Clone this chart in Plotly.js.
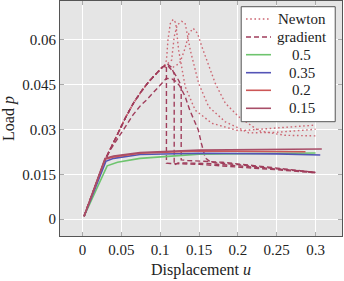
<!DOCTYPE html>
<html><head><meta charset="utf-8">
<script src="https://cdn.plot.ly/plotly-3.0.1.min.js"></script>
<style>html,body{margin:0;padding:0;background:#fff}#plot{width:344px;height:281px}</style>
</head><body><div id="plot"></div>
<script>
// shared loading path (upper cluster)
const upX = [0.002,0.029,0.036,0.045,0.055,0.065,0.075,0.085,0.095,0.103];
const upY = [0.001,0.0198,0.0235,0.0285,0.0337,0.0385,0.0424,0.0458,0.0487,0.0508];

// Newton (dotted) branches after the shared path
const newton1X = [0.106,0.108,0.110,0.113,0.1168,0.120,0.1237,0.1322,0.145,0.1666,0.201,0.25,0.3];
const newton1Y = [0.0515,0.053,0.0598,0.0653,0.0667,0.0655,0.0564,0.0442,0.0364,0.032,0.0295,0.0305,0.0314];
const newton2X = [0.108,0.1147,0.118,0.1219,0.1276,0.132,0.1387,0.1495,0.1624,0.1838,0.214,0.25,0.3];
const newton2Y = [0.0515,0.0531,0.0609,0.0648,0.066,0.0655,0.0564,0.0453,0.0375,0.0325,0.0288,0.029,0.030];
const newton3X = [0.115,0.125,0.132,0.137,0.1425,0.148,0.1537,0.1709,0.1838,0.201,0.2268,0.26,0.3];
const newton3Y = [0.0505,0.052,0.057,0.062,0.0637,0.062,0.0575,0.0453,0.0387,0.0342,0.0295,0.028,0.0278];

// gradient (dashed) branches after the shared path
const grad1X = [0.107,0.108,0.108,0.113,0.15,0.2,0.25,0.3];
const grad1Y = [0.0514,0.0512,0.0187,0.0186,0.0183,0.0175,0.0165,0.0155];
const grad2X = [0.109,0.114,0.118,0.118,0.123,0.16,0.2,0.25,0.3];
const grad2Y = [0.0518,0.0508,0.0485,0.0181,0.0188,0.0186,0.0178,0.0167,0.0157];
const grad3X = [0.11,0.118,0.124,0.127,0.127,0.135,0.18,0.22,0.26,0.3];
const grad3Y = [0.0512,0.0488,0.0462,0.0445,0.0198,0.0196,0.019,0.018,0.0168,0.0156];
const grad4X = [0.002,0.029,0.035,0.044,0.055,0.065,0.075,0.0825,0.092,0.1,0.108,0.115,0.12,0.125,0.132,0.138,0.144,0.149,0.153,0.158,0.165,0.2,0.25,0.3];
const grad4Y = [0.001,0.0198,0.0228,0.0264,0.031,0.0348,0.038,0.0398,0.0425,0.0448,0.047,0.0468,0.046,0.0445,0.041,0.0364,0.033,0.0298,0.0253,0.0205,0.019,0.0182,0.0168,0.0155];

// solid curves
const solidNames = ['0.5','0.35','0.2','0.15'];
const s05X  = [0.002,0.0317,0.045,0.074,0.15,0.25,0.30];
const s05Y  = [0.001,0.0178,0.019,0.0203,0.0217,0.0221,0.0221];
const s035X = [0.002,0.030,0.04,0.074,0.15,0.25,0.306];
const s035Y = [0.001,0.0193,0.0203,0.0216,0.022,0.0218,0.0214];
const s02X  = [0.002,0.029,0.04,0.074,0.15,0.25,0.287];
const s02Y  = [0.001,0.0200,0.0208,0.022,0.0228,0.0227,0.0225];
const s015X = [0.002,0.029,0.04,0.074,0.15,0.25,0.308];
const s015Y = [0.001,0.0203,0.0211,0.0222,0.0231,0.0233,0.0234];

const xTicks = [0,0.05,0.1,0.15,0.2,0.25,0.3];
const xTickText = ['0','0.05','0.1','0.15','0.2','0.25','0.3'];
const yTicks = [0,0.015,0.03,0.045,0.06];
const yTickText = ['0','0.015','0.03','0.045','0.06'];

const legendLabels = ['Newton','gradient','0.5','0.35','0.2','0.15'];

const newtonColor = 'rgb(204,102,114)';
const gradColor = 'rgb(160,62,92)';
const solidColors = ['rgb(110,196,110)','rgb(84,84,182)','rgb(204,86,86)','rgb(168,78,104)'];
const nd = '1.6px,2.6px', gd = '5px,3px';

function joinUp(bx, by){ return [upX.concat(bx), upY.concat(by)]; }

const traces = [];
[[newton1X,newton1Y],[newton2X,newton2Y],[newton3X,newton3Y]].forEach((p)=>{
  const [x,y] = joinUp(p[0],p[1]);
  traces.push({x,y,type:'scatter',mode:'lines',name:'Newton',
    line:{color:newtonColor,width:1.4,dash:nd}});
});
[[grad1X,grad1Y],[grad2X,grad2Y],[grad3X,grad3Y]].forEach((p)=>{
  const [x,y] = joinUp(p[0],p[1]);
  traces.push({x,y,type:'scatter',mode:'lines',name:'gradient',
    line:{color:gradColor,width:1.4,dash:gd}});
});
traces.push({x:grad4X,y:grad4Y,type:'scatter',mode:'lines',name:'gradient',
  line:{color:gradColor,width:1.4,dash:gd}});
[[s05X,s05Y],[s035X,s035Y],[s02X,s02Y],[s015X,s015Y]].forEach((p,i)=>{
  traces.push({x:p[0],y:p[1],type:'scatter',mode:'lines',name:solidNames[i],
    line:{color:solidColors[i],width:1.6}});
});

const fam = '"Liberation Serif", "Times New Roman", serif';
const font = {family:fam, size:15, color:'#222'};

// legend drawn in paper coordinates (box, sample lines, labels)
const legStyles = [
  {color:newtonColor,width:1.4,dash:nd},
  {color:gradColor,width:1.4,dash:gd},
  {color:solidColors[0],width:1.6},
  {color:solidColors[1],width:1.6},
  {color:solidColors[2],width:1.6},
  {color:solidColors[3],width:1.6}
];
const legBox = {x0:0.6426,x1:0.976,y0:0.4864,y1:0.9757};
const legRowY = [0.9234,0.8468,0.7715,0.6949,0.6200,0.5434];
const shapes = [{type:'rect',xref:'paper',yref:'paper',x0:legBox.x0,x1:legBox.x1,y0:legBox.y0,y1:legBox.y1,
  fillcolor:'#fff',line:{color:'#555',width:1},layer:'above'}];
const annotations = [];
legendLabels.forEach((lab,i)=>{
  shapes.push({type:'line',xref:'paper',yref:'paper',x0:0.6596,x1:0.7482,y0:legRowY[i],y1:legRowY[i],
    line:legStyles[i],layer:'above'});
  annotations.push({xref:'paper',yref:'paper',x:0.8564,y:legRowY[i],xanchor:'center',yanchor:'middle',
    text:lab,showarrow:false,font:font});
});

const layout = {
  width:344, height:281,
  margin:{l:60,r:2,t:1,b:45},
  paper_bgcolor:'#fff', plot_bgcolor:'#e5e5e5',
  font: font,
  showlegend:false,
  shapes: shapes,
  annotations: annotations,
  xaxis:{range:[-0.029,0.334],tickvals:xTicks,ticktext:xTickText,
    showgrid:true,gridcolor:'#fff',gridwidth:1,zeroline:false,
    showline:true,linecolor:'#555',linewidth:1,mirror:'ticks',
    ticks:'inside',ticklen:4,tickcolor:'#aaa',
    title:{text:'Displacement <i>u</i>',font:{family:fam,size:16,color:'#222'},standoff:6}},
  yaxis:{range:[-0.0056,0.0728],tickvals:yTicks,ticktext:yTickText,
    showgrid:true,gridcolor:'#fff',gridwidth:1,zeroline:false,
    showline:true,linecolor:'#555',linewidth:1,mirror:'ticks',
    ticks:'inside',ticklen:4,tickcolor:'#aaa',
    title:{text:'Load <i>p</i>',font:{family:fam,size:16,color:'#222'},standoff:4}}
};
Plotly.newPlot('plot',traces,layout,{displayModeBar:false,staticPlot:true});
</script></body></html>
